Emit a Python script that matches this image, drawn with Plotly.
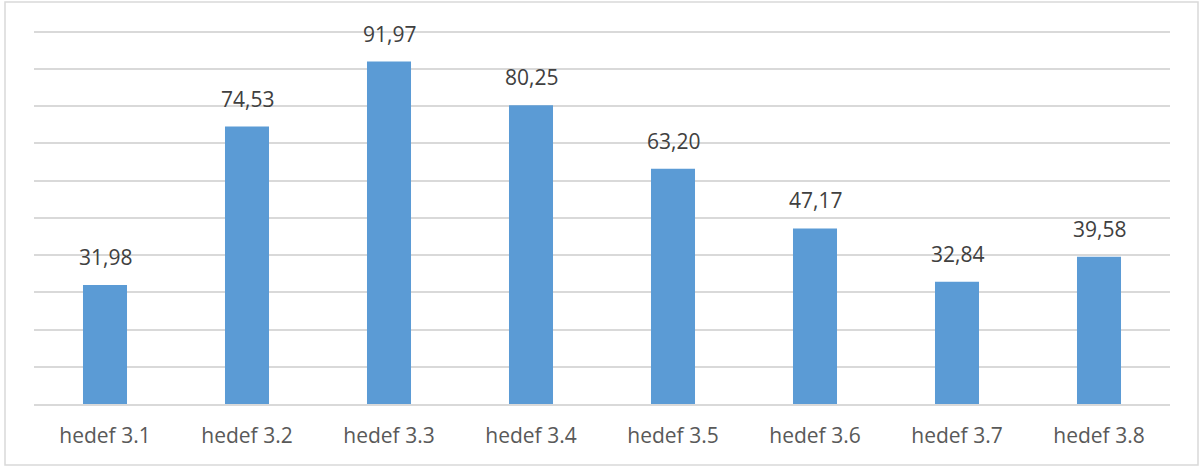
import plotly.graph_objects as go

categories = ["hedef 3.1", "hedef 3.2", "hedef 3.3", "hedef 3.4", "hedef 3.5", "hedef 3.6", "hedef 3.7", "hedef 3.8"]
values = [31.98, 74.53, 91.97, 80.25, 63.20, 47.17, 32.84, 39.58]

W, H = 1200, 466
ml, mr, mt, mb = 34, 30, 28, 62
pw, ph = W - ml - mr, H - mt - mb

fig = go.Figure(go.Bar(
    x=categories, y=values,
    marker=dict(color="#5b9bd5", line=dict(width=0)),
    hoverinfo="skip",
))

for c, v in zip(categories, values):
    fig.add_annotation(x=c, y=v, text=f"{v:.2f}".replace(".", ","), showarrow=False,
                       yanchor="bottom", yshift=12,
                       font=dict(size=21, color="#404040", family="Open Sans"))

def px_x(p):
    return (p - ml) / pw

def px_y(p):
    return 1 - (p - mt) / ph

fig.add_shape(type="rect", xref="paper", yref="paper",
              x0=px_x(5), x1=px_x(1198), y0=px_y(465), y1=px_y(2),
              line=dict(color="#d9d9d9", width=1.5), layer="below")

fig.update_layout(
    width=W, height=H,
    margin=dict(l=ml, r=mr, t=mt, b=mb),
    paper_bgcolor="white", plot_bgcolor="white",
    bargap=0.69,
    showlegend=False,
    xaxis=dict(showgrid=False, ticks="", showline=True, linecolor="#d9d9d9", linewidth=1.5,
               ticklabelstandoff=12,
               tickfont=dict(size=21, color="#595959", family="Open Sans")),
    yaxis=dict(range=[0, 101], dtick=10, showticklabels=False, showgrid=True,
               gridcolor="#d9d9d9", gridwidth=1.5, zeroline=False, showline=False),
)

fig.write_html("out.html", config={"displayModeBar": False},
               post_script="document.body.style.margin='0';document.body.style.overflow='hidden';")
